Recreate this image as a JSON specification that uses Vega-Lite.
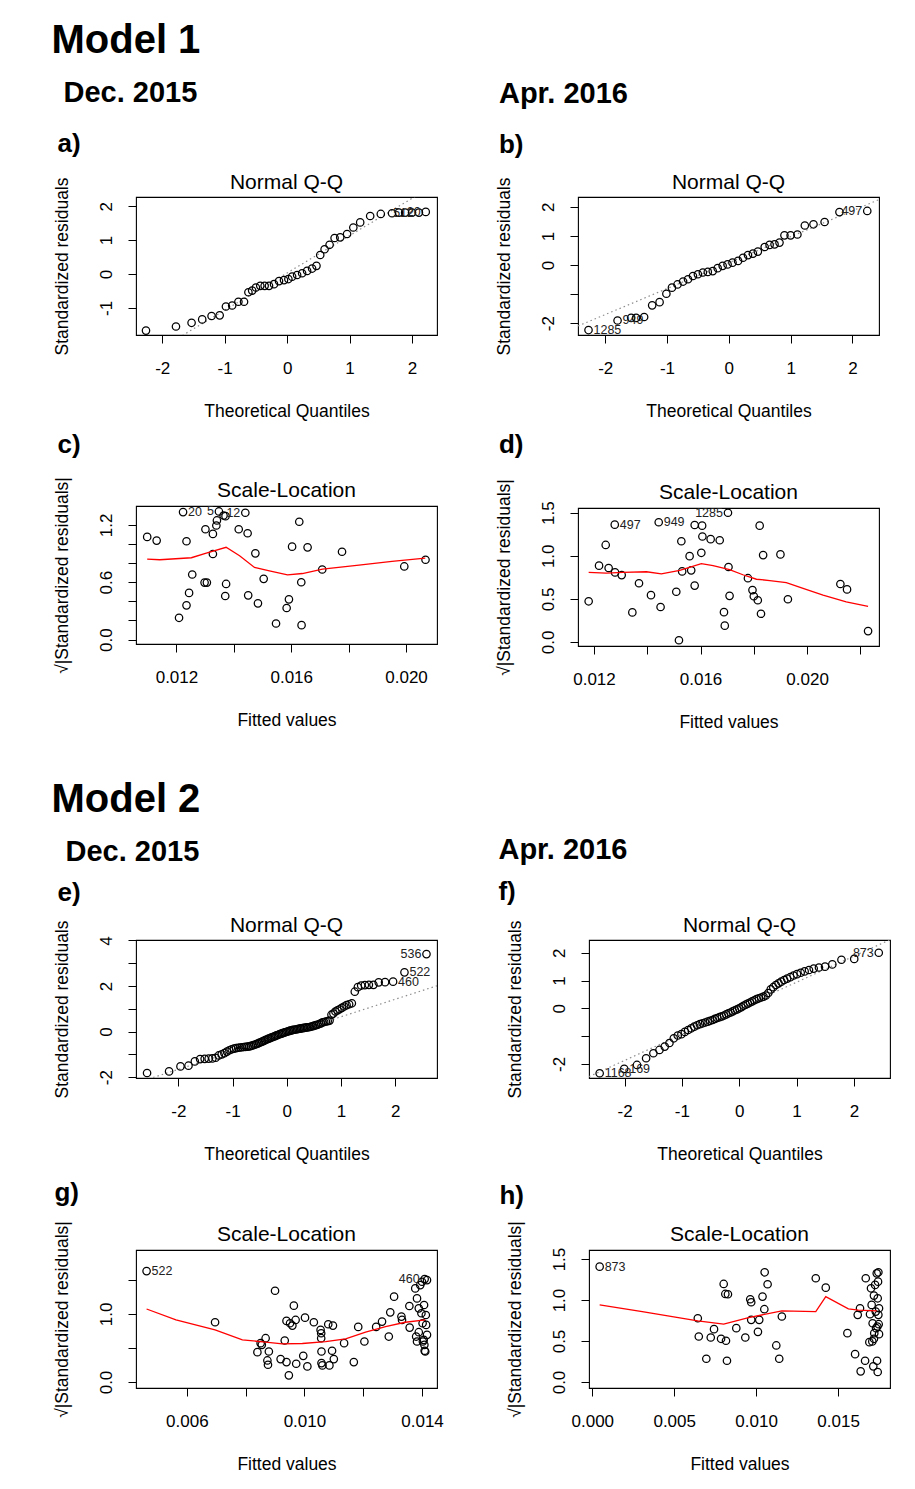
{
  "$schema": "https://vega.github.io/schema/vega-lite/v6.json",
  "background": "white",
  "padding": {"left": 51, "top": 21, "right": 5, "bottom": 5},
  "spacing": 47,
  "datasets": {
    "qqA": [
      {"q": -2.26, "r": -1.67}, {"q": -1.78, "r": -1.55}, {"q": -1.53, "r": -1.44}, {"q": -1.36, "r": -1.34},
      {"q": -1.21, "r": -1.24}, {"q": -1.08, "r": -1.22}, {"q": -0.98, "r": -0.96}, {"q": -0.88, "r": -0.93},
      {"q": -0.78, "r": -0.82}, {"q": -0.69, "r": -0.82}, {"q": -0.62, "r": -0.54}, {"q": -0.56, "r": -0.49},
      {"q": -0.50, "r": -0.40}, {"q": -0.43, "r": -0.35}, {"q": -0.36, "r": -0.35}, {"q": -0.29, "r": -0.35},
      {"q": -0.21, "r": -0.30}, {"q": -0.13, "r": -0.21}, {"q": -0.05, "r": -0.18}, {"q": 0.02, "r": -0.15},
      {"q": 0.08, "r": -0.08}, {"q": 0.16, "r": -0.03}, {"q": 0.24, "r": 0.02}, {"q": 0.32, "r": 0.09},
      {"q": 0.40, "r": 0.16}, {"q": 0.47, "r": 0.24}, {"q": 0.53, "r": 0.56}, {"q": 0.60, "r": 0.73},
      {"q": 0.68, "r": 0.86}, {"q": 0.76, "r": 1.06}, {"q": 0.85, "r": 1.08}, {"q": 0.96, "r": 1.18},
      {"q": 1.06, "r": 1.37}, {"q": 1.17, "r": 1.52}, {"q": 1.33, "r": 1.71}, {"q": 1.50, "r": 1.77},
      {"q": 1.68, "r": 1.79}, {"q": 1.79, "r": 1.81}, {"q": 1.89, "r": 1.81, "id": "5"}, {"q": 2.00, "r": 1.81},
      {"q": 2.11, "r": 1.81, "id": "12"}, {"q": 2.22, "r": 1.83, "id": "20"}
    ],
    "qqAline": [{"q": -2.42, "r": -2.63}, {"q": 2.40, "r": 2.67}],
    "qqB": [
      {"q": -2.27, "r": -2.24, "id": "1285"}, {"q": -1.80, "r": -1.91, "id": "949"}, {"q": -1.58, "r": -1.82},
      {"q": -1.50, "r": -1.82}, {"q": -1.37, "r": -1.79}, {"q": -1.24, "r": -1.39}, {"q": -1.12, "r": -1.28},
      {"q": -1.01, "r": -0.99}, {"q": -0.92, "r": -0.78}, {"q": -0.83, "r": -0.67}, {"q": -0.74, "r": -0.57},
      {"q": -0.66, "r": -0.49}, {"q": -0.58, "r": -0.38}, {"q": -0.50, "r": -0.32}, {"q": -0.42, "r": -0.26},
      {"q": -0.34, "r": -0.24}, {"q": -0.26, "r": -0.21}, {"q": -0.18, "r": -0.11}, {"q": -0.10, "r": -0.03},
      {"q": -0.02, "r": 0.02}, {"q": 0.06, "r": 0.08}, {"q": 0.15, "r": 0.14}, {"q": 0.23, "r": 0.25},
      {"q": 0.31, "r": 0.34}, {"q": 0.39, "r": 0.39}, {"q": 0.47, "r": 0.46}, {"q": 0.58, "r": 0.62},
      {"q": 0.66, "r": 0.69}, {"q": 0.74, "r": 0.71}, {"q": 0.82, "r": 0.77}, {"q": 0.90, "r": 1.02},
      {"q": 1.00, "r": 1.02}, {"q": 1.11, "r": 1.05}, {"q": 1.23, "r": 1.36}, {"q": 1.37, "r": 1.40},
      {"q": 1.55, "r": 1.48}, {"q": 1.79, "r": 1.82}, {"q": 2.24, "r": 1.86, "id": "497"}
    ],
    "qqBline": [{"q": -2.44, "r": -2.10}, {"q": 2.43, "r": 2.25}],
    "slC": [
      {"fit": 0.01098, "s": 1.074}, {"fit": 0.01131, "s": 1.035}, {"fit": 0.01209, "s": 0.228},
      {"fit": 0.01223, "s": 1.333, "id": "20"}, {"fit": 0.01235, "s": 1.028}, {"fit": 0.01235, "s": 0.358},
      {"fit": 0.01244, "s": 0.488}, {"fit": 0.01255, "s": 0.681}, {"fit": 0.01298, "s": 0.596},
      {"fit": 0.01306, "s": 0.596}, {"fit": 0.01301, "s": 1.154}, {"fit": 0.01327, "s": 1.105},
      {"fit": 0.01327, "s": 0.895}, {"fit": 0.01339, "s": 1.193}, {"fit": 0.01341, "s": 1.246},
      {"fit": 0.01348, "s": 1.340, "id": "5"}, {"fit": 0.01364, "s": 1.298}, {"fit": 0.01371, "s": 1.291},
      {"fit": 0.01370, "s": 0.456}, {"fit": 0.01373, "s": 0.582}, {"fit": 0.01417, "s": 1.154},
      {"fit": 0.01440, "s": 1.326, "id": "12"}, {"fit": 0.01448, "s": 1.112}, {"fit": 0.01450, "s": 0.463},
      {"fit": 0.01475, "s": 0.902}, {"fit": 0.01484, "s": 0.379}, {"fit": 0.01504, "s": 0.635},
      {"fit": 0.01547, "s": 0.168}, {"fit": 0.01584, "s": 0.330}, {"fit": 0.01592, "s": 0.421},
      {"fit": 0.01603, "s": 0.972}, {"fit": 0.01628, "s": 1.232}, {"fit": 0.01635, "s": 0.600},
      {"fit": 0.01636, "s": 0.151}, {"fit": 0.01657, "s": 0.965}, {"fit": 0.01708, "s": 0.733},
      {"fit": 0.01777, "s": 0.919}, {"fit": 0.01994, "s": 0.765}, {"fit": 0.02068, "s": 0.835}
    ],
    "slCs": [
      {"fit": 0.01098, "s": 0.842}, {"fit": 0.01142, "s": 0.835}, {"fit": 0.01252, "s": 0.856},
      {"fit": 0.01304, "s": 0.905}, {"fit": 0.01373, "s": 0.965}, {"fit": 0.01420, "s": 0.877},
      {"fit": 0.01472, "s": 0.754}, {"fit": 0.01524, "s": 0.719}, {"fit": 0.01587, "s": 0.677},
      {"fit": 0.01639, "s": 0.691}, {"fit": 0.01709, "s": 0.737}, {"fit": 0.01836, "s": 0.779},
      {"fit": 0.01951, "s": 0.818}, {"fit": 0.02067, "s": 0.853}
    ],
    "slD": [
      {"fit": 0.0118, "s": 0.472}, {"fit": 0.01219, "s": 0.886}, {"fit": 0.01244, "s": 1.126},
      {"fit": 0.01255, "s": 0.858}, {"fit": 0.01278, "s": 1.362, "id": "497"}, {"fit": 0.01279, "s": 0.807},
      {"fit": 0.01304, "s": 0.776}, {"fit": 0.01344, "s": 0.343}, {"fit": 0.01369, "s": 0.681},
      {"fit": 0.01414, "s": 0.543}, {"fit": 0.01443, "s": 1.390, "id": "949"}, {"fit": 0.01450, "s": 0.406},
      {"fit": 0.01509, "s": 0.583}, {"fit": 0.01519, "s": 0.020}, {"fit": 0.01528, "s": 1.169},
      {"fit": 0.01531, "s": 0.819}, {"fit": 0.01559, "s": 0.996}, {"fit": 0.01565, "s": 0.831},
      {"fit": 0.01578, "s": 1.358}, {"fit": 0.01578, "s": 0.654}, {"fit": 0.01603, "s": 1.035},
      {"fit": 0.01606, "s": 1.350}, {"fit": 0.01607, "s": 1.224}, {"fit": 0.01638, "s": 1.193},
      {"fit": 0.01672, "s": 1.181}, {"fit": 0.01688, "s": 0.346}, {"fit": 0.01691, "s": 0.189},
      {"fit": 0.01703, "s": 1.500, "id": "1285"}, {"fit": 0.01705, "s": 0.870}, {"fit": 0.01709, "s": 0.535},
      {"fit": 0.01778, "s": 0.740}, {"fit": 0.01795, "s": 0.602}, {"fit": 0.01800, "s": 0.531},
      {"fit": 0.01815, "s": 0.484}, {"fit": 0.01822, "s": 1.350}, {"fit": 0.01827, "s": 0.327},
      {"fit": 0.01835, "s": 1.008}, {"fit": 0.01900, "s": 1.016}, {"fit": 0.01928, "s": 0.496},
      {"fit": 0.02125, "s": 0.673}, {"fit": 0.02150, "s": 0.610}, {"fit": 0.02229, "s": 0.126}
    ],
    "slDs": [
      {"fit": 0.0118, "s": 0.807}, {"fit": 0.01246, "s": 0.799}, {"fit": 0.01309, "s": 0.807},
      {"fit": 0.01397, "s": 0.815}, {"fit": 0.01453, "s": 0.791}, {"fit": 0.01522, "s": 0.831},
      {"fit": 0.01603, "s": 0.909}, {"fit": 0.01647, "s": 0.886}, {"fit": 0.01709, "s": 0.839},
      {"fit": 0.01759, "s": 0.780}, {"fit": 0.01810, "s": 0.728}, {"fit": 0.01860, "s": 0.713},
      {"fit": 0.01922, "s": 0.689}, {"fit": 0.01985, "s": 0.622}, {"fit": 0.02060, "s": 0.543},
      {"fit": 0.02147, "s": 0.465}, {"fit": 0.02229, "s": 0.413}
    ],
    "qqE": [
      {"q": -2.576, "r": -1.82}, {"q": -2.170, "r": -1.75}, {"q": -1.960, "r": -1.53}, {"q": -1.812, "r": -1.50},
      {"q": -1.695, "r": -1.31}, {"q": -1.598, "r": -1.21}, {"q": -1.514, "r": -1.20}, {"q": -1.440, "r": -1.19},
      {"q": -1.372, "r": -1.18}, {"q": -1.311, "r": -1.15}, {"q": -1.254, "r": -1.05}, {"q": -1.200, "r": -1.00},
      {"q": -1.150, "r": -0.95}, {"q": -1.103, "r": -0.88}, {"q": -1.058, "r": -0.82}, {"q": -1.015, "r": -0.78},
      {"q": -0.974, "r": -0.75}, {"q": -0.935, "r": -0.73}, {"q": -0.896, "r": -0.71}, {"q": -0.860, "r": -0.70},
      {"q": -0.824, "r": -0.69}, {"q": -0.789, "r": -0.68}, {"q": -0.755, "r": -0.67}, {"q": -0.722, "r": -0.66},
      {"q": -0.690, "r": -0.65}, {"q": -0.659, "r": -0.63}, {"q": -0.628, "r": -0.61}, {"q": -0.598, "r": -0.58},
      {"q": -0.568, "r": -0.56}, {"q": -0.539, "r": -0.53}, {"q": -0.510, "r": -0.50}, {"q": -0.482, "r": -0.47},
      {"q": -0.454, "r": -0.44}, {"q": -0.426, "r": -0.41}, {"q": -0.399, "r": -0.38}, {"q": -0.372, "r": -0.35},
      {"q": -0.345, "r": -0.32}, {"q": -0.319, "r": -0.30}, {"q": -0.292, "r": -0.27}, {"q": -0.266, "r": -0.25},
      {"q": -0.240, "r": -0.22}, {"q": -0.215, "r": -0.20}, {"q": -0.189, "r": -0.17}, {"q": -0.164, "r": -0.15},
      {"q": -0.138, "r": -0.12}, {"q": -0.113, "r": -0.10}, {"q": -0.088, "r": -0.08}, {"q": -0.063, "r": -0.06},
      {"q": -0.038, "r": -0.04}, {"q": -0.013, "r": -0.02}, {"q": 0.013, "r": 0.00}, {"q": 0.038, "r": 0.02},
      {"q": 0.063, "r": 0.04}, {"q": 0.088, "r": 0.05}, {"q": 0.113, "r": 0.07}, {"q": 0.138, "r": 0.08},
      {"q": 0.164, "r": 0.09}, {"q": 0.189, "r": 0.10}, {"q": 0.215, "r": 0.12}, {"q": 0.240, "r": 0.13},
      {"q": 0.266, "r": 0.14}, {"q": 0.292, "r": 0.15}, {"q": 0.319, "r": 0.16}, {"q": 0.345, "r": 0.17},
      {"q": 0.372, "r": 0.18}, {"q": 0.399, "r": 0.19}, {"q": 0.426, "r": 0.20}, {"q": 0.454, "r": 0.22},
      {"q": 0.482, "r": 0.24}, {"q": 0.510, "r": 0.26}, {"q": 0.539, "r": 0.28}, {"q": 0.568, "r": 0.30},
      {"q": 0.598, "r": 0.33}, {"q": 0.628, "r": 0.36}, {"q": 0.659, "r": 0.40}, {"q": 0.690, "r": 0.42},
      {"q": 0.722, "r": 0.44}, {"q": 0.755, "r": 0.46}, {"q": 0.789, "r": 0.48}, {"q": 0.824, "r": 0.74},
      {"q": 0.860, "r": 0.79}, {"q": 0.896, "r": 0.88}, {"q": 0.935, "r": 0.93}, {"q": 0.974, "r": 0.98},
      {"q": 1.015, "r": 1.04}, {"q": 1.058, "r": 1.10}, {"q": 1.103, "r": 1.16}, {"q": 1.150, "r": 1.20},
      {"q": 1.200, "r": 1.24}, {"q": 1.254, "r": 1.75}, {"q": 1.311, "r": 1.95}, {"q": 1.372, "r": 2.02},
      {"q": 1.440, "r": 2.04}, {"q": 1.514, "r": 2.05}, {"q": 1.598, "r": 2.05}, {"q": 1.695, "r": 2.16},
      {"q": 1.812, "r": 2.17}, {"q": 1.960, "r": 2.19, "id": "460"}, {"q": 2.170, "r": 2.60, "id": "522"},
      {"q": 2.576, "r": 3.40, "id": "536"}
    ],
    "qqEline": [{"q": -2.78, "r": -2.26}, {"q": 2.77, "r": 2.01}],
    "qqF": [
      {"q": -2.434, "r": -2.34, "id": "1168"}, {"q": -2.006, "r": -2.18, "id": "169"}, {"q": -1.783, "r": -2.04},
      {"q": -1.624, "r": -1.80}, {"q": -1.497, "r": -1.62}, {"q": -1.391, "r": -1.50}, {"q": -1.299, "r": -1.38},
      {"q": -1.217, "r": -1.25}, {"q": -1.141, "r": -1.08}, {"q": -1.072, "r": -0.98}, {"q": -1.008, "r": -0.93},
      {"q": -0.948, "r": -0.85}, {"q": -0.891, "r": -0.78}, {"q": -0.836, "r": -0.72}, {"q": -0.784, "r": -0.66},
      {"q": -0.734, "r": -0.61}, {"q": -0.686, "r": -0.57}, {"q": -0.639, "r": -0.54}, {"q": -0.594, "r": -0.51},
      {"q": -0.550, "r": -0.48}, {"q": -0.507, "r": -0.45}, {"q": -0.465, "r": -0.42}, {"q": -0.424, "r": -0.38},
      {"q": -0.383, "r": -0.35}, {"q": -0.343, "r": -0.32}, {"q": -0.303, "r": -0.29}, {"q": -0.264, "r": -0.26},
      {"q": -0.226, "r": -0.22}, {"q": -0.188, "r": -0.18}, {"q": -0.150, "r": -0.15}, {"q": -0.113, "r": -0.11},
      {"q": -0.075, "r": -0.07}, {"q": -0.037, "r": -0.04}, {"q": 0.0, "r": 0.00}, {"q": 0.037, "r": 0.04},
      {"q": 0.075, "r": 0.09}, {"q": 0.113, "r": 0.13}, {"q": 0.150, "r": 0.17}, {"q": 0.188, "r": 0.21},
      {"q": 0.226, "r": 0.25}, {"q": 0.264, "r": 0.29}, {"q": 0.303, "r": 0.33}, {"q": 0.343, "r": 0.36},
      {"q": 0.383, "r": 0.39}, {"q": 0.424, "r": 0.42}, {"q": 0.465, "r": 0.46}, {"q": 0.507, "r": 0.55},
      {"q": 0.550, "r": 0.68}, {"q": 0.594, "r": 0.76}, {"q": 0.639, "r": 0.84}, {"q": 0.686, "r": 0.90},
      {"q": 0.734, "r": 0.96}, {"q": 0.784, "r": 1.02}, {"q": 0.836, "r": 1.07}, {"q": 0.891, "r": 1.12},
      {"q": 0.948, "r": 1.18}, {"q": 1.008, "r": 1.23}, {"q": 1.072, "r": 1.28}, {"q": 1.141, "r": 1.33},
      {"q": 1.217, "r": 1.38}, {"q": 1.299, "r": 1.43}, {"q": 1.391, "r": 1.47}, {"q": 1.497, "r": 1.50},
      {"q": 1.624, "r": 1.58}, {"q": 1.783, "r": 1.75}, {"q": 2.006, "r": 1.78}, {"q": 2.434, "r": 2.00, "id": "873"}
    ],
    "qqFline": [{"q": -2.62, "r": -2.46}, {"q": 2.63, "r": 2.47}],
    "slG": [
      {"fit": 0.00463, "s": 1.63, "id": "522"}, {"fit": 0.00696, "s": 0.878}, {"fit": 0.00840, "s": 0.439},
      {"fit": 0.00851, "s": 0.571}, {"fit": 0.00855, "s": 0.546}, {"fit": 0.00868, "s": 0.644},
      {"fit": 0.00874, "s": 0.317}, {"fit": 0.00876, "s": 0.254}, {"fit": 0.00879, "s": 0.449},
      {"fit": 0.00900, "s": 1.341}, {"fit": 0.00919, "s": 0.337}, {"fit": 0.00933, "s": 0.610},
      {"fit": 0.00939, "s": 0.898}, {"fit": 0.00939, "s": 0.293}, {"fit": 0.00947, "s": 0.098},
      {"fit": 0.00951, "s": 0.863}, {"fit": 0.00959, "s": 0.829}, {"fit": 0.00964, "s": 1.122},
      {"fit": 0.00970, "s": 0.912}, {"fit": 0.00972, "s": 0.268}, {"fit": 0.00996, "s": 0.385},
      {"fit": 0.01002, "s": 0.946}, {"fit": 0.01010, "s": 0.229}, {"fit": 0.01032, "s": 0.878},
      {"fit": 0.01055, "s": 0.766}, {"fit": 0.01057, "s": 0.717}, {"fit": 0.01057, "s": 0.644},
      {"fit": 0.01058, "s": 0.449}, {"fit": 0.01058, "s": 0.278}, {"fit": 0.01061, "s": 0.244},
      {"fit": 0.01081, "s": 0.849}, {"fit": 0.01085, "s": 0.244}, {"fit": 0.01094, "s": 0.459},
      {"fit": 0.01097, "s": 0.829}, {"fit": 0.01100, "s": 0.337}, {"fit": 0.01135, "s": 0.571},
      {"fit": 0.01168, "s": 0.293}, {"fit": 0.01183, "s": 0.810}, {"fit": 0.01204, "s": 0.595},
      {"fit": 0.01244, "s": 0.810}, {"fit": 0.01264, "s": 0.888}, {"fit": 0.01287, "s": 0.668},
      {"fit": 0.01292, "s": 1.024}, {"fit": 0.01305, "s": 1.254}, {"fit": 0.01330, "s": 0.961},
      {"fit": 0.01332, "s": 0.912}, {"fit": 0.01357, "s": 1.117}, {"fit": 0.01358, "s": 0.800},
      {"fit": 0.01377, "s": 1.376}, {"fit": 0.01380, "s": 0.668}, {"fit": 0.01383, "s": 1.229},
      {"fit": 0.01383, "s": 0.595}, {"fit": 0.01389, "s": 1.083}, {"fit": 0.01389, "s": 0.732},
      {"fit": 0.01394, "s": 1.424}, {"fit": 0.01398, "s": 1.010}, {"fit": 0.01400, "s": 1.473},
      {"fit": 0.01402, "s": 0.863}, {"fit": 0.01403, "s": 0.595}, {"fit": 0.01406, "s": 0.620},
      {"fit": 0.01407, "s": 1.132}, {"fit": 0.01408, "s": 0.546}, {"fit": 0.01409, "s": 1.512, "id": "460"},
      {"fit": 0.01409, "s": 0.459}, {"fit": 0.01411, "s": 0.449}, {"fit": 0.01413, "s": 0.985},
      {"fit": 0.01414, "s": 0.839}, {"fit": 0.01417, "s": 0.693}, {"fit": 0.01417, "s": 1.498}
    ],
    "slGs": [
      {"fit": 0.00463, "s": 1.073}, {"fit": 0.00563, "s": 0.912}, {"fit": 0.00696, "s": 0.766},
      {"fit": 0.00789, "s": 0.620}, {"fit": 0.00868, "s": 0.585}, {"fit": 0.00925, "s": 0.561},
      {"fit": 0.00993, "s": 0.566}, {"fit": 0.01072, "s": 0.595}, {"fit": 0.01140, "s": 0.634},
      {"fit": 0.01208, "s": 0.732}, {"fit": 0.01276, "s": 0.815}, {"fit": 0.01343, "s": 0.878},
      {"fit": 0.01411, "s": 0.912}
    ],
    "slH": [
      {"fit": 0.00045, "s": 1.407, "id": "873"}, {"fit": 0.00644, "s": 0.778}, {"fit": 0.00650, "s": 0.555},
      {"fit": 0.00696, "s": 0.284}, {"fit": 0.00723, "s": 0.543}, {"fit": 0.00743, "s": 0.645},
      {"fit": 0.00786, "s": 0.527}, {"fit": 0.00802, "s": 1.196}, {"fit": 0.00812, "s": 1.074},
      {"fit": 0.00816, "s": 0.503}, {"fit": 0.00822, "s": 0.259}, {"fit": 0.00828, "s": 1.070},
      {"fit": 0.00879, "s": 0.657}, {"fit": 0.00934, "s": 0.543}, {"fit": 0.00964, "s": 1.009},
      {"fit": 0.00970, "s": 0.973}, {"fit": 0.00970, "s": 0.758}, {"fit": 0.01011, "s": 0.612},
      {"fit": 0.01019, "s": 0.758}, {"fit": 0.01039, "s": 1.042}, {"fit": 0.01050, "s": 0.888},
      {"fit": 0.01052, "s": 1.338}, {"fit": 0.01070, "s": 1.192}, {"fit": 0.01123, "s": 0.446},
      {"fit": 0.01141, "s": 0.284}, {"fit": 0.01157, "s": 0.799}, {"fit": 0.01364, "s": 1.265},
      {"fit": 0.01425, "s": 1.151}, {"fit": 0.01557, "s": 0.596}, {"fit": 0.01604, "s": 0.340},
      {"fit": 0.01620, "s": 0.819}, {"fit": 0.01634, "s": 0.900}, {"fit": 0.01638, "s": 0.130},
      {"fit": 0.01665, "s": 0.259}, {"fit": 0.01669, "s": 1.265}, {"fit": 0.01691, "s": 0.486},
      {"fit": 0.01695, "s": 0.827}, {"fit": 0.01701, "s": 1.143}, {"fit": 0.01705, "s": 0.940},
      {"fit": 0.01709, "s": 0.495}, {"fit": 0.01711, "s": 0.717}, {"fit": 0.01715, "s": 0.191},
      {"fit": 0.01719, "s": 1.054}, {"fit": 0.01719, "s": 0.527}, {"fit": 0.01721, "s": 0.596},
      {"fit": 0.01726, "s": 1.184}, {"fit": 0.01730, "s": 0.859}, {"fit": 0.01732, "s": 0.657},
      {"fit": 0.01736, "s": 1.325}, {"fit": 0.01738, "s": 0.259}, {"fit": 0.01740, "s": 0.677},
      {"fit": 0.01742, "s": 0.122}, {"fit": 0.01742, "s": 1.021}, {"fit": 0.01744, "s": 1.224},
      {"fit": 0.01746, "s": 1.338}, {"fit": 0.01746, "s": 0.819}, {"fit": 0.01748, "s": 0.705},
      {"fit": 0.01750, "s": 0.584}, {"fit": 0.01750, "s": 0.900}
    ],
    "slHs": [
      {"fit": 0.00045, "s": 0.940}, {"fit": 0.00305, "s": 0.859}, {"fit": 0.00644, "s": 0.746},
      {"fit": 0.00802, "s": 0.705}, {"fit": 0.00954, "s": 0.786}, {"fit": 0.01157, "s": 0.867},
      {"fit": 0.01364, "s": 0.859}, {"fit": 0.01425, "s": 1.042}, {"fit": 0.01563, "s": 0.892},
      {"fit": 0.01624, "s": 0.876}, {"fit": 0.01736, "s": 0.867}
    ]
  },
  "vconcat": [
    {
      "title": {"text": "Model 1", "anchor": "start", "frame": "bounds", "font": "Liberation Sans Narrow, Liberation Sans", "fontSize": 40, "fontWeight": "bold", "offset": 18, "dx": -1},
      "spacing": 56,
      "hconcat": [
        {
          "title": {"text": "Dec. 2015", "anchor": "start", "frame": "bounds", "font": "Liberation Sans Narrow, Liberation Sans", "fontSize": 29, "fontWeight": "bold", "offset": 23, "dx": 11},
          "spacing": 11,
          "vconcat": [
            {
              "title": {"text": "a)", "anchor": "start", "frame": "bounds", "font": "Liberation Sans Narrow, Liberation Sans", "fontSize": 26, "fontWeight": "bold", "offset": 14, "dx": 5},
              "vconcat": [{
                "width": 301, "height": 138,
                "title": {"text": "Normal Q-Q", "offset": -16},
                "encoding": {
                  "x": {"field": "q", "type": "quantitative", "title": "Theoretical Quantiles", "scale": {"domain": [-2.42, 2.40], "nice": false, "zero": false}, "axis": {"values": [-2, -1, 0, 1, 2], "labelExpr": "'' + datum.value"}},
                  "y": {"field": "r", "type": "quantitative", "title": "Standardized residuals", "scale": {"domain": [-1.80, 2.27], "nice": false, "zero": false}, "axis": {"values": [-1, 0, 1, 2], "labelExpr": "'' + datum.value"}}
                },
                "layer": [
                  {"data": {"name": "qqAline"}, "mark": {"type": "line", "clip": true, "color": "#8c8c8c", "strokeDash": [1.5, 3], "strokeWidth": 1.2}, "encoding": {}},
                  {"data": {"name": "qqA"}, "mark": {"type": "point", "shape": "circle", "filled": false, "color": "#000", "size": 55, "strokeWidth": 1.25, "opacity": 1}, "encoding": {}},
                  {"data": {"name": "qqA"}, "transform": [{"filter": "isValid(datum.id)"}], "mark": {"type": "text", "align": "right", "baseline": "middle", "dx": -5, "fontSize": 12.5, "color": "#222"}, "encoding": {"text": {"field": "id"}}}
                ]
              }]
            },
            {
              "title": {"text": "c)", "anchor": "start", "frame": "bounds", "font": "Liberation Sans Narrow, Liberation Sans", "fontSize": 26, "fontWeight": "bold", "offset": 18, "dx": 5},
              "vconcat": [{
                "width": 301, "height": 138,
                "title": {"text": "Scale-Location", "offset": -24},
                "encoding": {
                  "x": {"field": "fit", "type": "quantitative", "title": "Fitted values", "scale": {"domain": [0.01059, 0.02108], "nice": false, "zero": false}, "axis": {"values": [0.012, 0.014, 0.016, 0.018, 0.020], "format": ".3f", "labelExpr": "indexof(['0.012', '0.016', '0.020'], datum.label) >= 0 ? datum.label : ''"}},
                  "y": {"field": "s", "type": "quantitative", "title": "√|Standardized residuals|", "scale": {"domain": [-0.046, 1.397], "nice": false, "zero": false}, "axis": {"values": [0, 0.2, 0.4, 0.6, 0.8, 1.0, 1.2, 1.4], "format": ".1f", "labelExpr": "indexof(['0.0', '0.6', '1.2'], datum.label) >= 0 ? datum.label : ''"}}
                },
                "layer": [
                  {"data": {"name": "slC"}, "mark": {"type": "point", "shape": "circle", "filled": false, "color": "#000", "size": 55, "strokeWidth": 1.25, "opacity": 1}, "encoding": {}},
                  {"data": {"name": "slCs"}, "mark": {"type": "line", "color": "#ff0000", "strokeWidth": 1.3}, "encoding": {}},
                  {"data": {"name": "slC"}, "transform": [{"filter": "datum.id == '20'"}], "mark": {"type": "text", "align": "left", "baseline": "middle", "dx": 5, "fontSize": 12.5, "color": "#222"}, "encoding": {"text": {"field": "id"}}},
                  {"data": {"name": "slC"}, "transform": [{"filter": "datum.id == '5' || datum.id == '12'"}], "mark": {"type": "text", "align": "right", "baseline": "middle", "dx": -5, "fontSize": 12.5, "color": "#222"}, "encoding": {"text": {"field": "id"}}}
                ]
              }]
            }
          ]
        },
        {
          "title": {"text": "Apr. 2016", "anchor": "start", "frame": "bounds", "font": "Liberation Sans Narrow, Liberation Sans", "fontSize": 29, "fontWeight": "bold", "offset": 23, "dx": 4.5},
          "spacing": 11,
          "vconcat": [
            {
              "title": {"text": "b)", "anchor": "start", "frame": "bounds", "font": "Liberation Sans Narrow, Liberation Sans", "fontSize": 26, "fontWeight": "bold", "offset": 13.5, "dx": 4.5},
              "vconcat": [{
                "width": 301, "height": 138,
                "title": {"text": "Normal Q-Q", "offset": -16},
                "encoding": {
                  "x": {"field": "q", "type": "quantitative", "title": "Theoretical Quantiles", "scale": {"domain": [-2.44, 2.43], "nice": false, "zero": false}, "axis": {"values": [-2, -1, 0, 1, 2], "labelExpr": "'' + datum.value"}},
                  "y": {"field": "r", "type": "quantitative", "title": "Standardized residuals", "scale": {"domain": [-2.41, 2.34], "nice": false, "zero": false}, "axis": {"values": [-2, -1, 0, 1, 2], "labelExpr": "datum.value == -1 ? '' : '' + datum.value"}}
                },
                "layer": [
                  {"data": {"name": "qqBline"}, "mark": {"type": "line", "clip": true, "color": "#8c8c8c", "strokeDash": [1.5, 3], "strokeWidth": 1.2}, "encoding": {}},
                  {"data": {"name": "qqB"}, "mark": {"type": "point", "shape": "circle", "filled": false, "color": "#000", "size": 55, "strokeWidth": 1.25, "opacity": 1}, "encoding": {}},
                  {"data": {"name": "qqB"}, "transform": [{"filter": "datum.id == '1285' || datum.id == '949'"}], "mark": {"type": "text", "align": "left", "baseline": "middle", "dx": 5, "fontSize": 12.5, "color": "#222"}, "encoding": {"text": {"field": "id"}}},
                  {"data": {"name": "qqB"}, "transform": [{"filter": "datum.id == '497'"}], "mark": {"type": "text", "align": "right", "baseline": "middle", "dx": -5, "fontSize": 12.5, "color": "#222"}, "encoding": {"text": {"field": "id"}}}
                ]
              }]
            },
            {
              "title": {"text": "d)", "anchor": "start", "frame": "bounds", "font": "Liberation Sans Narrow, Liberation Sans", "fontSize": 26, "fontWeight": "bold", "offset": 20, "dx": 4.5},
              "vconcat": [{
                "width": 301, "height": 138,
                "title": {"text": "Scale-Location", "offset": -24},
                "encoding": {
                  "x": {"field": "fit", "type": "quantitative", "title": "Fitted values", "scale": {"domain": [0.0114, 0.0227], "nice": false, "zero": false}, "axis": {"values": [0.012, 0.014, 0.016, 0.018, 0.020, 0.022], "format": ".3f", "labelExpr": "indexof(['0.012', '0.016', '0.020'], datum.label) >= 0 ? datum.label : ''"}},
                  "y": {"field": "s", "type": "quantitative", "title": "√|Standardized residuals|", "scale": {"domain": [-0.047, 1.555], "nice": false, "zero": false}, "axis": {"values": [0, 0.5, 1.0, 1.5], "format": ".1f"}}
                },
                "layer": [
                  {"data": {"name": "slD"}, "mark": {"type": "point", "shape": "circle", "filled": false, "color": "#000", "size": 55, "strokeWidth": 1.25, "opacity": 1}, "encoding": {}},
                  {"data": {"name": "slDs"}, "mark": {"type": "line", "color": "#ff0000", "strokeWidth": 1.3}, "encoding": {}},
                  {"data": {"name": "slD"}, "transform": [{"filter": "datum.id == '497' || datum.id == '949'"}], "mark": {"type": "text", "align": "left", "baseline": "middle", "dx": 5, "fontSize": 12.5, "color": "#222"}, "encoding": {"text": {"field": "id"}}},
                  {"data": {"name": "slD"}, "transform": [{"filter": "datum.id == '1285'"}], "mark": {"type": "text", "align": "right", "baseline": "middle", "dx": -5, "fontSize": 12.5, "color": "#222"}, "encoding": {"text": {"field": "id"}}}
                ]
              }]
            }
          ]
        }
      ]
    },
    {
      "title": {"text": "Model 2", "anchor": "start", "frame": "bounds", "font": "Liberation Sans Narrow, Liberation Sans", "fontSize": 40, "fontWeight": "bold", "offset": 16, "dx": -1},
      "spacing": 54,
      "hconcat": [
        {
          "title": {"text": "Dec. 2015", "anchor": "start", "frame": "bounds", "font": "Liberation Sans Narrow, Liberation Sans", "fontSize": 29, "fontWeight": "bold", "offset": 13, "dx": 13},
          "spacing": 16,
          "vconcat": [
            {
              "title": {"text": "e)", "anchor": "start", "frame": "bounds", "font": "Liberation Sans Narrow, Liberation Sans", "fontSize": 26, "fontWeight": "bold", "offset": 8, "dx": 5},
              "vconcat": [{
                "width": 301, "height": 138,
                "title": {"text": "Normal Q-Q", "offset": -16},
                "encoding": {
                  "x": {"field": "q", "type": "quantitative", "title": "Theoretical Quantiles", "scale": {"domain": [-2.78, 2.77], "nice": false, "zero": false}, "axis": {"values": [-2, -1, 0, 1, 2], "labelExpr": "'' + datum.value"}},
                  "y": {"field": "r", "type": "quantitative", "title": "Standardized residuals", "scale": {"domain": [-2.04, 4.02], "nice": false, "zero": false}, "axis": {"values": [-2, -1, 0, 1, 2, 3, 4], "labelExpr": "datum.value % 2 == 0 ? '' + datum.value : ''"}}
                },
                "layer": [
                  {"data": {"name": "qqEline"}, "mark": {"type": "line", "clip": true, "color": "#8c8c8c", "strokeDash": [1.5, 3], "strokeWidth": 1.2}, "encoding": {}},
                  {"data": {"name": "qqE"}, "mark": {"type": "point", "shape": "circle", "filled": false, "color": "#000", "size": 55, "strokeWidth": 1.25, "opacity": 1}, "encoding": {}},
                  {"data": {"name": "qqE"}, "transform": [{"filter": "datum.id == '460' || datum.id == '522'"}], "mark": {"type": "text", "align": "left", "baseline": "middle", "dx": 5, "fontSize": 12.5, "color": "#222"}, "encoding": {"text": {"field": "id"}}},
                  {"data": {"name": "qqE"}, "transform": [{"filter": "datum.id == '536'"}], "mark": {"type": "text", "align": "right", "baseline": "middle", "dx": -5, "fontSize": 12.5, "color": "#222"}, "encoding": {"text": {"field": "id"}}}
                ]
              }]
            },
            {
              "title": {"text": "g)", "anchor": "start", "frame": "bounds", "font": "Liberation Sans Narrow, Liberation Sans", "fontSize": 26, "fontWeight": "bold", "offset": 14, "dx": 2},
              "vconcat": [{
                "width": 301, "height": 138,
                "title": {"text": "Scale-Location", "offset": -24},
                "encoding": {
                  "x": {"field": "fit", "type": "quantitative", "title": "Fitted values", "scale": {"domain": [0.00427, 0.01451], "nice": false, "zero": false}, "axis": {"values": [0.006, 0.008, 0.010, 0.012, 0.014], "format": ".3f", "labelExpr": "indexof(['0.006', '0.010', '0.014'], datum.label) >= 0 ? datum.label : ''"}},
                  "y": {"field": "s", "type": "quantitative", "title": "√|Standardized residuals|", "scale": {"domain": [-0.088, 1.94], "nice": false, "zero": false}, "axis": {"values": [0, 0.5, 1.0, 1.5], "format": ".1f", "labelExpr": "indexof(['0.0', '1.0'], datum.label) >= 0 ? datum.label : ''"}}
                },
                "layer": [
                  {"data": {"name": "slG"}, "mark": {"type": "point", "shape": "circle", "filled": false, "color": "#000", "size": 55, "strokeWidth": 1.25, "opacity": 1}, "encoding": {}},
                  {"data": {"name": "slGs"}, "mark": {"type": "line", "color": "#ff0000", "strokeWidth": 1.3}, "encoding": {}},
                  {"data": {"name": "slG"}, "transform": [{"filter": "datum.id == '522'"}], "mark": {"type": "text", "align": "left", "baseline": "middle", "dx": 5, "fontSize": 12.5, "color": "#222"}, "encoding": {"text": {"field": "id"}}},
                  {"data": {"name": "slG"}, "transform": [{"filter": "datum.id == '460'"}], "mark": {"type": "text", "align": "right", "baseline": "middle", "dx": -5, "fontSize": 12.5, "color": "#222"}, "encoding": {"text": {"field": "id"}}}
                ]
              }]
            }
          ]
        },
        {
          "title": {"text": "Apr. 2016", "anchor": "start", "frame": "bounds", "font": "Liberation Sans Narrow, Liberation Sans", "fontSize": 29, "fontWeight": "bold", "offset": 14, "dx": 0},
          "spacing": 19,
          "vconcat": [
            {
              "title": {"text": "f)", "anchor": "start", "frame": "bounds", "font": "Liberation Sans Narrow, Liberation Sans", "fontSize": 26, "fontWeight": "bold", "offset": 9.5, "dx": -7},
              "vconcat": [{
                "width": 301, "height": 138,
                "title": {"text": "Normal Q-Q", "offset": -16},
                "encoding": {
                  "x": {"field": "q", "type": "quantitative", "title": "Theoretical Quantiles", "scale": {"domain": [-2.62, 2.63], "nice": false, "zero": false}, "axis": {"values": [-2, -1, 0, 1, 2], "labelExpr": "'' + datum.value"}},
                  "y": {"field": "r", "type": "quantitative", "title": "Standardized residuals", "scale": {"domain": [-2.51, 2.46], "nice": false, "zero": false}, "axis": {"values": [-2, -1, 0, 1, 2], "labelExpr": "datum.value == -1 ? '' : '' + datum.value"}}
                },
                "layer": [
                  {"data": {"name": "qqFline"}, "mark": {"type": "line", "clip": true, "color": "#8c8c8c", "strokeDash": [1.5, 3], "strokeWidth": 1.2}, "encoding": {}},
                  {"data": {"name": "qqF"}, "mark": {"type": "point", "shape": "circle", "filled": false, "color": "#000", "size": 55, "strokeWidth": 1.25, "opacity": 1}, "encoding": {}},
                  {"data": {"name": "qqF"}, "transform": [{"filter": "datum.id == '1168' || datum.id == '169'"}], "mark": {"type": "text", "align": "left", "baseline": "middle", "dx": 5, "fontSize": 12.5, "color": "#222"}, "encoding": {"text": {"field": "id"}}},
                  {"data": {"name": "qqF"}, "transform": [{"filter": "datum.id == '873'"}], "mark": {"type": "text", "align": "right", "baseline": "middle", "dx": -5, "fontSize": 12.5, "color": "#222"}, "encoding": {"text": {"field": "id"}}}
                ]
              }]
            },
            {
              "title": {"text": "h)", "anchor": "start", "frame": "bounds", "font": "Liberation Sans Narrow, Liberation Sans", "fontSize": 26, "fontWeight": "bold", "offset": 11, "dx": -6},
              "vconcat": [{
                "width": 301, "height": 138,
                "title": {"text": "Scale-Location", "offset": -24},
                "encoding": {
                  "x": {"field": "fit", "type": "quantitative", "title": "Fitted values", "scale": {"domain": [-0.0002, 0.01817], "nice": false, "zero": false}, "axis": {"values": [0, 0.005, 0.010, 0.015], "format": ".3f"}},
                  "y": {"field": "s", "type": "quantitative", "title": "√|Standardized residuals|", "scale": {"domain": [-0.073, 1.61], "nice": false, "zero": false}, "axis": {"values": [0, 0.5, 1.0, 1.5], "format": ".1f"}}
                },
                "layer": [
                  {"data": {"name": "slH"}, "mark": {"type": "point", "shape": "circle", "filled": false, "color": "#000", "size": 55, "strokeWidth": 1.25, "opacity": 1}, "encoding": {}},
                  {"data": {"name": "slHs"}, "mark": {"type": "line", "color": "#ff0000", "strokeWidth": 1.3}, "encoding": {}},
                  {"data": {"name": "slH"}, "transform": [{"filter": "datum.id == '873'"}], "mark": {"type": "text", "align": "left", "baseline": "middle", "dx": 5, "fontSize": 12.5, "color": "#222"}, "encoding": {"text": {"field": "id"}}}
                ]
              }]
            }
          ]
        }
      ]
    }
  ],
  "config": {
    "font": "Liberation Sans",
    "view": {"stroke": "#000", "strokeWidth": 1.1},
    "axis": {
      "domain": false, "grid": false, "ticks": true, "tickColor": "#000", "tickSize": 8, "tickWidth": 1,
      "labelFont": "Liberation Sans", "labelFontSize": 17, "labelColor": "#000", "labelPadding": 17,
      "labelOverlap": false, "labelFlush": false,
      "titleFont": "Liberation Sans", "titleFontSize": 17.5, "titleFontWeight": "normal", "titleColor": "#000"
    },
    "axisX": {"titlePadding": 26},
    "axisY": {"labelAngle": -90, "labelAlign": "center", "labelBaseline": "alphabetic", "titlePadding": 26},
    "title": {"font": "Liberation Sans", "fontSize": 21, "fontWeight": "normal", "color": "#000", "anchor": "middle", "frame": "group"}
  }
}
